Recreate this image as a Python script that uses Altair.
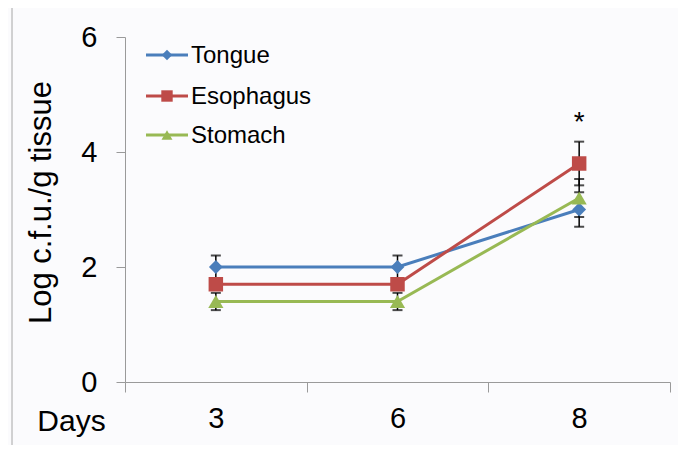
import altair as alt
import pandas as pd

days = ["3", "6", "8"]
series_names = ["Tongue", "Esophagus", "Stomach"]
tongue = [2.0, 2.0, 3.0]
tongue_err = [0.2, 0.2, 0.3]
esophagus = [1.7, 1.7, 3.8]
esophagus_err = [0.1, 0.1, 0.38]
stomach = [1.4, 1.4, 3.2]
stomach_err = [0.15, 0.15, 0.33]
annot_day = ["8"]
annot_value = [4.5]
annot_text = ["*"]

colors = ["#4A7EBB", "#BE4B48", "#98B954"]
shapes = ["diamond", "square", "triangle-up"]
sizes = [190, 230, 210]
legend_sizes = [110, 130, 120]

rows = []
for name, vals, errs in [("Tongue", tongue, tongue_err),
                         ("Esophagus", esophagus, esophagus_err),
                         ("Stomach", stomach, stomach_err)]:
    for d, v, e in zip(days, vals, errs):
        rows.append({"day": d, "series": name, "value": v, "lo": v - e, "hi": v + e})
df = pd.DataFrame(rows)
annot = pd.DataFrame({"day": annot_day, "value": annot_value, "text": annot_text})
one = pd.DataFrame({"k": [0]})

FONT = "Liberation Sans"

xenc = alt.X("day:N", sort=days, bandPosition=0.5,
             scale=alt.Scale(type="band", paddingInner=0, paddingOuter=0),
             axis=alt.Axis(title="Days", labelAngle=0, labelFontSize=29, labelColor="black",
                           labelFont=FONT, tickBand="extent", tickSize=10, labelPadding=12,
                           domainColor="#9a9a9a", tickColor="#9a9a9a", grid=False,
                           titleFont=FONT, titleFontSize=30, titleFontWeight="normal",
                           titleX=-54, titleY=48, titleBaseline="alphabetic", titleAlign="center",
                           titleColor="black"))
yscale = alt.Scale(domain=[0, 6])
yaxis = alt.Axis(title="Log c.f.u./g tissue", values=[0, 2, 4, 6], format="d", labelFontSize=29,
                 labelColor="black", labelFont=FONT, tickSize=9, labelPadding=19,
                 domainColor="#9a9a9a", tickColor="#9a9a9a", grid=False,
                 titleFont=FONT, titleFontSize=31, titleFontWeight="normal", titleColor="black",
                 titleX=-84, titleY=165, titleAngle=270, titleBaseline="middle", titleAlign="center")

color = alt.Color("series:N", scale=alt.Scale(domain=series_names, range=colors), legend=None)
shape = alt.Shape("series:N", scale=alt.Scale(domain=series_names, range=shapes), legend=None)
size = alt.Size("series:N", scale=alt.Scale(domain=series_names, range=sizes), legend=None)

base = alt.Chart(df)

err_rule = base.mark_rule(color="black", strokeWidth=1.5).encode(
    x=xenc, y=alt.Y("lo:Q", scale=yscale, axis=yaxis), y2="hi:Q")
err_lo = base.mark_tick(color="black", thickness=2, size=10, orient="horizontal").encode(
    x=xenc, y=alt.Y("lo:Q", scale=yscale))
err_hi = base.mark_tick(color="black", thickness=2, size=10, orient="horizontal").encode(
    x=xenc, y=alt.Y("hi:Q", scale=yscale))

lines = base.mark_line(strokeWidth=3).encode(
    x=xenc, y=alt.Y("value:Q", scale=yscale), color=color, detail="series:N")
points = base.mark_point(filled=True, opacity=1).encode(
    x=xenc, y=alt.Y("value:Q", scale=yscale), color=color, shape=shape, size=size)

star = alt.Chart(annot).mark_text(fontSize=28, font=FONT, color="black", baseline="middle").encode(
    x=xenc, y=alt.Y("value:Q", scale=yscale), text="text:N")

# manual legend (decoration)
legend_layers = []
legend_rows_y = [18, 59, 98]
for i, name in enumerate(series_names):
    ly = legend_rows_y[i]
    legend_layers.append(alt.Chart(one).mark_rule(color=colors[i], strokeWidth=3).encode(
        x=alt.value(21), x2=alt.value(63), y=alt.value(ly)))
    legend_layers.append(alt.Chart(one).mark_point(filled=True, opacity=1, color=colors[i],
                                                   shape=shapes[i], size=legend_sizes[i]).encode(
        x=alt.value(42), y=alt.value(ly)))
    legend_layers.append(alt.Chart(one).mark_text(text=name, align="left", baseline="middle",
                                                  fontSize=24, font=FONT, color="black").encode(
        x=alt.value(66), y=alt.value(ly + 1)))

border = alt.Chart(one).mark_rect(fill=None, stroke="#a6a6a6", strokeWidth=1).encode(
    x=alt.value(-113), x2=alt.value(555), y=alt.value(-30), y2=alt.value(440))

chart = alt.layer(border, err_rule, err_lo, err_hi, lines, points, star, *legend_layers).properties(
    width=545, height=345,
    padding={"left": 117, "top": 29, "right": 8, "bottom": 63},
    autosize=alt.AutoSizeParams(type="none"),
    background="#fbfbfd",
).configure_view(stroke=None)

chart.save("out.html", embed_options={"renderer": "svg", "actions": False})
